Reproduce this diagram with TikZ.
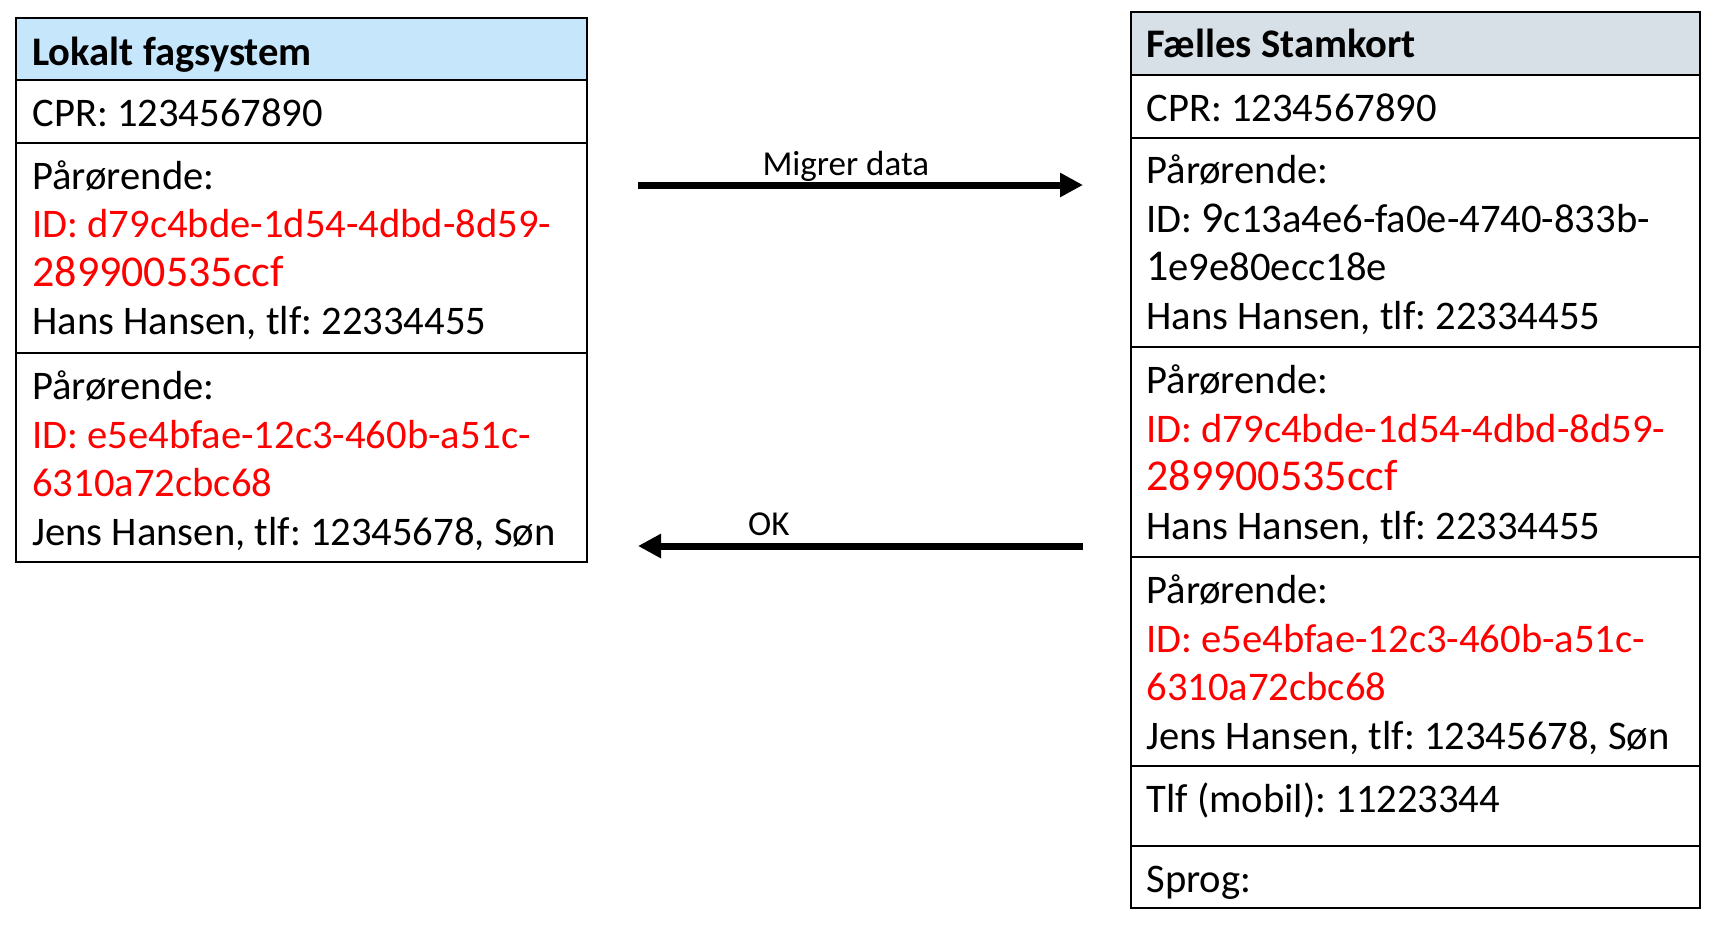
\documentclass[tikz,border=0pt]{standalone}
\usepackage{fontspec}
\setmainfont{Carlito}
\usetikzlibrary{positioning,arrows.meta}
\definecolor{headblue}{HTML}{C6E7FB}
\definecolor{headgray}{HTML}{D6E0E6}
\definecolor{idred}{HTML}{FF0000}
\newcommand{\bigid}[1]{{\fontsize{22}{24.25}\selectfont #1}}
\frenchspacing
\begin{document}
\begin{tikzpicture}[x=0.5pt,y=-0.5pt,
	cell/.style={draw=black,line width=1pt,inner sep=0pt,outer sep=0pt,minimum width=285.5pt},
	rcell/.style={cell,minimum width=284.5pt},
	txt/.style={anchor=base west,inner sep=0pt,text width=275pt,align=left,font=\fontsize{20.3}{24.25}\selectfont\frenchspacing,
		execute at begin node={\spaceskip=0pt\xspaceskip=0pt\relax}},
	lbl/.style={anchor=base,inner sep=0pt,font=\fontsize{17.5}{20}\selectfont},
	flow/.style={line width=3.5pt,-{Triangle[length=11.5pt,width=11.5pt]}}]
			\useasboundingbox (0,0) rectangle (1718,928);
			\node[cell,fill=headblue,anchor=north west,minimum height=31.25pt] (lhead) at (16,17.5) {};
			\node[cell,below=0pt of lhead,minimum height=31.25pt] (lcpr) {};
			\node[cell,below=0pt of lcpr,minimum height=105.25pt] (lpar1) {};
			\node[cell,below=0pt of lpar1,minimum height=104.5pt] (lpar2) {};
			\node[rcell,fill=headgray,anchor=north west,minimum height=31.25pt] (rhead) at (1131,12) {};
			\node[rcell,below=0pt of rhead,minimum height=31.75pt] (rcpr) {};
			\node[rcell,below=0pt of rcpr,minimum height=104.5pt] (rpar1) {};
			\node[rcell,below=0pt of rpar1,minimum height=105pt] (rpar2) {};
			\node[rcell,below=0pt of rpar2,minimum height=104.5pt] (rpar3) {};
			\node[rcell,below=0pt of rpar3,minimum height=40pt] (rtlf) {};
			\node[rcell,below=0pt of rtlf,minimum height=31pt] (rsprog) {};
			\node[txt] (lhead-t) at ([shift={(16,47.5)}]lhead.north west) {\bfseries Lokalt fagsystem};
			\node[txt] (lcpr-t) at ([shift={(16,46)}]lcpr.north west) {CPR: 1234567890};
			\node[txt] (lpar1-t) at ([shift={(16,46.5)}]lpar1.north west) {Pårørende:\\
				\textcolor{idred}{ID: d79c4bde-1d54-4dbd-8d59-}\\
				\textcolor{idred}{\bigid{289900535ccf}}\\
				Hans Hansen, tlf: 22334455};
			\node[txt] (lpar2-t) at ([shift={(16,46.5)}]lpar2.north west) {Pårørende:\\
				\textcolor{idred}{ID: e5e4bfae-12c3-460b-a51c-}\\
				\textcolor{idred}{6310a72cbc68}\\
				Jens Hansen, tlf: 12345678, Søn};
			\node[txt] (rhead-t) at ([shift={(15,45.5)}]rhead.north west) {\bfseries Fælles Stamkort};
			\node[txt] (rcpr-t) at ([shift={(15,46.5)}]rcpr.north west) {CPR: 1234567890};
			\node[txt] (rpar1-t) at ([shift={(15,45.5)}]rpar1.north west) {Pårørende:\\
				ID: \bigid{9}c13a4e6-fa0e-4740-833b-\\
				\bigid{1}e9e80ecc18e\\
				Hans Hansen, tlf: 22334455};
			\node[txt] (rpar2-t) at ([shift={(15,46.5)}]rpar2.north west) {Pårørende:\\
				\textcolor{idred}{ID: d79c4bde-1d54-4dbd-8d59-}\\
				\textcolor{idred}{\bigid{289900535ccf}}\\
				Hans Hansen, tlf: 22334455};
			\node[txt] (rpar3-t) at ([shift={(15,46.5)}]rpar3.north west) {Pårørende:\\
				\textcolor{idred}{ID: e5e4bfae-12c3-460b-a51c-}\\
				\textcolor{idred}{6310a72cbc68}\\
				Jens Hansen, tlf: 12345678, Søn};
			\node[txt] (rtlf-t) at ([shift={(15,46)}]rtlf.north west) {Tlf (mobil): 11223344};
			\node[txt] (rsprog-t) at ([shift={(15,46.5)}]rsprog.north west) {Sprog:};
			\coordinate (migfrom) at (638,185);
			\coordinate (migto) at (1083,185);
			\coordinate (okfrom) at (1083,546);
			\coordinate (okto) at (638,546);
			\draw[flow] (migfrom) -- (migto) node[lbl,pos=.467,yshift=5pt] (mig-l) {Migrer data};
			\draw[flow] (okfrom) -- (okto) node[lbl,pos=.706,yshift=5.5pt] (ok-l) {OK};
			\end{tikzpicture}
\end{document}
